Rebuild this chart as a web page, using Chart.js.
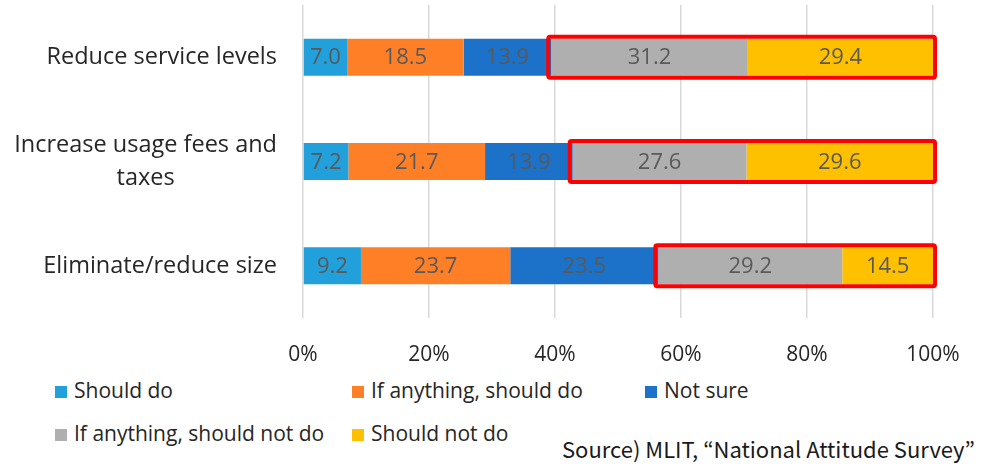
<!DOCTYPE html>
<html>
<head>
<meta charset="utf-8">
<script src="https://cdn.jsdelivr.net/npm/chart.js@4"></script>
<style>
  html, body { margin: 0; padding: 0; background: #fff; }
  #wrap { position: relative; width: 984px; height: 464px; overflow: hidden; background: #fff; }
  #chartBox { position: absolute; left: 0; top: 0; width: 984px; height: 375px; }
  .leg { position: absolute; font-family: "Open Sans", sans-serif; font-size: 21px; color: #262626; white-space: nowrap; line-height: 24px; }
  .leg i { display: inline-block; width: 12px; height: 12px; margin-right: 7px; vertical-align: 0px; }
  #source { position: absolute; right: 9px; top: 434px; font-family: "Noto Sans CJK JP", sans-serif; font-size: 22px; color: #1a1a1a; white-space: nowrap; line-height: 28px; }
</style>
</head>
<body>
<div id="wrap">
  <div id="chartBox"><canvas id="c"></canvas></div>
  <div id="legend"></div>
  <div id="source">Source) MLIT, “National Attitude Survey”</div>
</div>
<script>
// ---- data ----
const categories = ["Reduce service levels", "Increase usage fees and taxes", "Eliminate/reduce size"];
const categoryLines = [["Reduce service levels"], ["Increase usage fees and", "taxes"], ["Eliminate/reduce size"]];
const seriesNames = ["Should do", "If anything, should do", "Not sure", "If anything, should not do", "Should not do"];
const shouldDo = [7.0, 7.2, 9.2];
const ifAnythingShouldDo = [18.5, 21.7, 23.7];
const notSure = [13.9, 13.9, 23.5];
const ifAnythingShouldNotDo = [31.2, 27.6, 29.2];
const shouldNotDo = [29.4, 29.6, 14.5];
const tickValues = [0, 20, 40, 60, 80, 100];
const highlightedSeries = [3, 4];

const seriesColors = ["#21A0DB", "#FF7F27", "#1B72C8", "#AFAFAF", "#FFC000"];
const seriesValues = [shouldDo, ifAnythingShouldDo, notSure, ifAnythingShouldNotDo, shouldNotDo];

// ---- plugins ----
const catLabelPlugin = {
  id: 'catLabels',
  afterDraw(chart) {
    const ctx = chart.ctx, ys = chart.scales.y;
    ctx.save();
    ctx.font = '23.5px "Open Sans", sans-serif';
    ctx.fillStyle = '#262626';
    ctx.textAlign = 'center';
    ctx.textBaseline = 'middle';
    const rightEdge = 277, lh = 33;
    categoryLines.forEach((lines, i) => {
      const cy = ys.getPixelForValue(i);
      const maxW = Math.max(...lines.map(l => ctx.measureText(l).width));
      const cx = rightEdge - maxW / 2;
      lines.forEach((l, k) => {
        ctx.fillText(l, cx, cy + (k - (lines.length - 1) / 2) * lh);
      });
    });
    ctx.restore();
  }
};

const valueLabelPlugin = {
  id: 'valueLabels',
  afterDatasetsDraw(chart) {
    const ctx = chart.ctx;
    ctx.save();
    ctx.font = '22px "Open Sans", sans-serif';
    ctx.fillStyle = '#595959';
    ctx.textAlign = 'center';
    ctx.textBaseline = 'middle';
    chart.data.datasets.forEach((ds, di) => {
      const meta = chart.getDatasetMeta(di);
      meta.data.forEach((el, i) => {
        const right = Math.min(el.x, chart.chartArea.right);
        const cx = (right + el.base) / 2;
        ctx.fillText(ds.data[i].toFixed(1), cx, el.y + 1);
      });
    });
    ctx.restore();
  }
};

const highlightPlugin = {
  id: 'highlightBox',
  afterDatasetsDraw(chart) {
    const ctx = chart.ctx;
    const first = chart.getDatasetMeta(highlightedSeries[0]);
    const last = chart.getDatasetMeta(highlightedSeries[highlightedSeries.length - 1]);
    ctx.save();
    ctx.strokeStyle = '#FF0000';
    ctx.lineWidth = 4;
    ctx.lineJoin = 'round';
    first.data.forEach((el, i) => {
      const el2 = last.data[i];
      const x0 = el.base - 3;
      const x1 = Math.min(el2.x, chart.chartArea.right) + 2;
      const h = el.height;
      const y0 = el.y - h / 2 - 2;
      ctx.beginPath();
      ctx.roundRect(x0, y0, x1 - x0, h + 4, 2);
      ctx.stroke();
    });
    ctx.restore();
  }
};

// ---- chart ----
const chart = new Chart(document.getElementById('c'), {
  type: 'bar',
  data: {
    labels: categories,
    datasets: seriesNames.map((name, i) => ({
      label: name,
      data: seriesValues[i],
      backgroundColor: seriesColors[i],
      borderWidth: 0,
      barPercentage: 0.355,
      categoryPercentage: 1
    }))
  },
  options: {
    indexAxis: 'y',
    responsive: true,
    maintainAspectRatio: false,
    animation: false,
    layout: { padding: { top: 5, right: 51, left: 0, bottom: 0 } },
    plugins: { legend: { display: false }, tooltip: { enabled: false }, title: { display: false } },
    scales: {
      x: {
        stacked: true,
        min: 0, max: 100,
        afterBuildTicks(scale) { scale.ticks = tickValues.map(v => ({ value: v })); },
        afterFit(scale) { scale.height = 57; },
        grid: { color: '#D9D9D9', lineWidth: 1.5, drawTicks: false },
        border: { display: false },
        ticks: {
          padding: 24,
          color: '#262626',
          font: { family: '"Open Sans", sans-serif', size: 21 },
          callback: v => v + '%'
        }
      },
      y: {
        stacked: true,
        afterFit(scale) { scale.width = 303; },
        grid: { display: false },
        border: { display: false },
        ticks: { display: false }
      }
    }
  },
  plugins: [highlightPlugin, valueLabelPlugin, catLabelPlugin]
});

// ---- legend (HTML) ----
const legendPos = [[55, 378], [352, 378], [645, 378], [55, 421], [352, 421]];
const legendEl = document.getElementById('legend');
seriesNames.forEach((name, i) => {
  const d = document.createElement('div');
  d.className = 'leg';
  d.style.left = legendPos[i][0] + 'px';
  d.style.top = legendPos[i][1] + 'px';
  d.innerHTML = '<i style="background:' + seriesColors[i] + '"></i>' + name;
  legendEl.appendChild(d);
});
</script>
</body>
</html>
